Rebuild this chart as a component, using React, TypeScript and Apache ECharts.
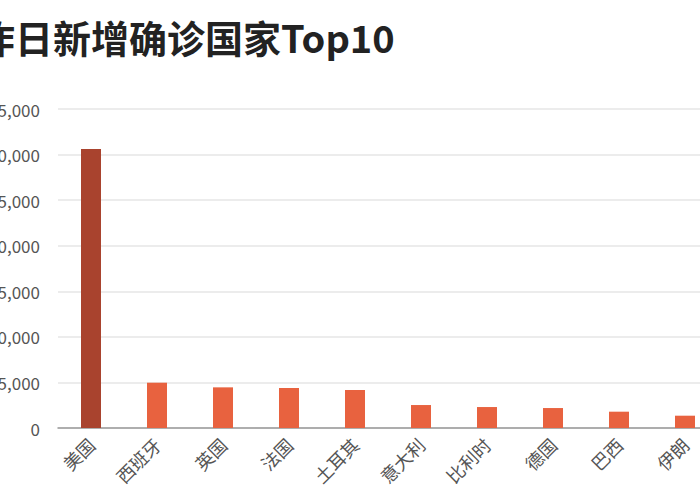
import { useEffect, useRef } from "react";
import * as echarts from "echarts";

const countries = ["美国", "西班牙", "英国", "法国", "土耳其", "意大利", "比利时", "德国", "巴西", "伊朗"];
const newCases = [30600, 4970, 4460, 4390, 4170, 2520, 2300, 2190, 1790, 1350];
const yTicks = [0, 5000, 10000, 15000, 20000, 25000, 30000, 35000];

const FONT = "'Noto Sans CJK SC', 'Noto Sans', sans-serif";
const TOP_COLOR = "#a9432e";
const BAR_COLOR = "#e8623f";

export default function App() {
  const ref = useRef<HTMLDivElement | null>(null);

  useEffect(() => {
    if (!ref.current) return;
    const chart = echarts.init(ref.current, undefined, { renderer: "svg" });
    chart.setOption({
      animation: false,
      backgroundColor: "#fff",
      textStyle: { fontFamily: FONT },
      title: {
        text: "昨日新增确诊国家Top10",
        left: 12,
        top: 12,
        textStyle: { fontSize: 38, fontWeight: "bold", color: "#222", fontFamily: FONT },
      },
      grid: { left: 98, right: 22, top: 109, bottom: 72, containLabel: false },
      xAxis: {
        type: "category",
        data: countries,
        axisLine: { lineStyle: { color: "#999", width: 1.5 } },
        axisTick: { show: false },
        axisLabel: { rotate: 45, fontSize: 18, color: "#555", margin: 13, interval: 0 },
      },
      yAxis: {
        type: "value",
        min: yTicks[0],
        max: yTicks[yTicks.length - 1],
        interval: yTicks[1] - yTicks[0],
        axisLine: { show: false },
        axisTick: { show: false },
        splitLine: { lineStyle: { color: "#e6e6e6", width: 1.5 } },
        axisLabel: {
          fontSize: 17,
          color: "#555",
          margin: 18,
          formatter: (v: number) => v.toLocaleString("en-US"),
        },
      },
      series: [
        {
          type: "bar",
          barWidth: 20,
          data: newCases.map((v, i) => ({
            value: v,
            itemStyle: { color: i === 0 ? TOP_COLOR : BAR_COLOR },
          })),
        },
      ],
    });
    return () => chart.dispose();
  }, []);

  return (
    <div style={{ position: "fixed", left: 0, top: 0, width: 700, height: 500, overflow: "hidden", background: "#fff" }}>
      <div ref={ref} style={{ position: "absolute", left: -40, top: 0, width: 780, height: 500 }} />
    </div>
  );
}
